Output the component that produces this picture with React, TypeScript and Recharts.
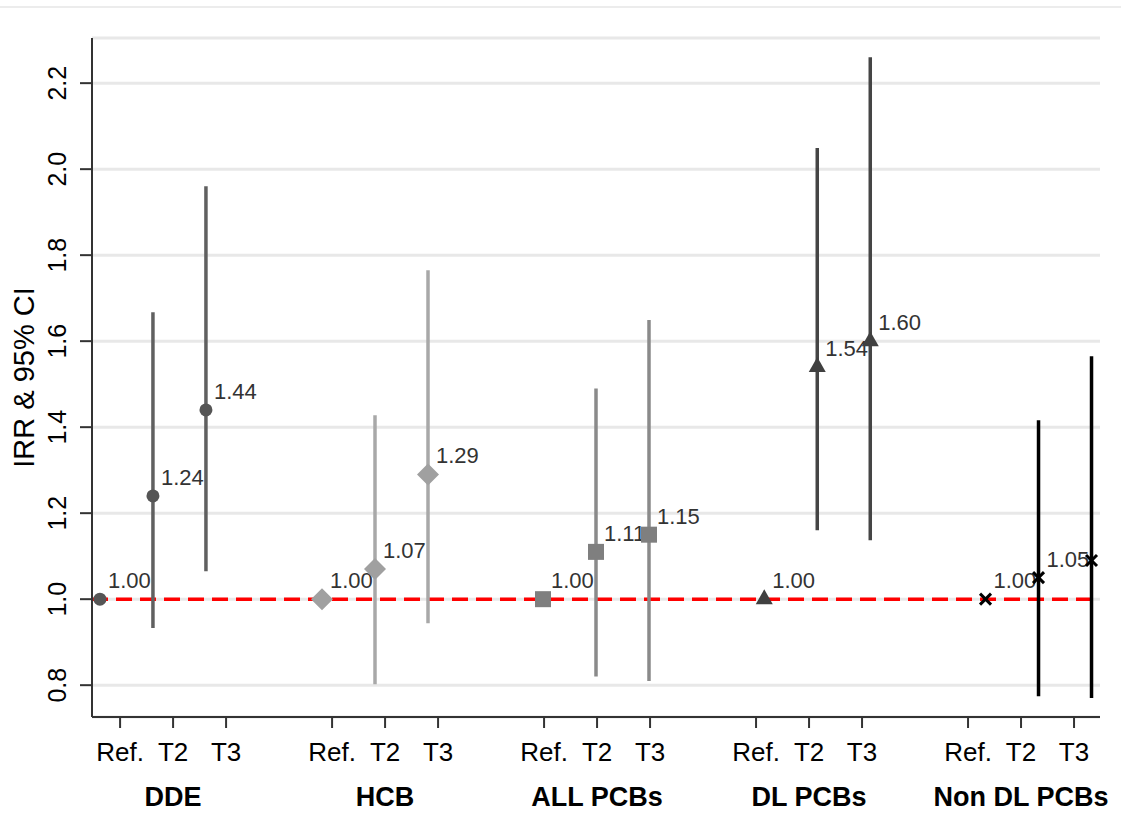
import React from 'react';
import { ComposedChart, Scatter, XAxis, YAxis, CartesianGrid, ReferenceLine, ErrorBar, Label } from 'recharts';

// ---- data ----
const groups = ['DDE', 'HCB', 'ALL PCBs', 'DL PCBs', 'Non DL PCBs'];
const levels = ['Ref.', 'T2', 'T3'];
const yTicks = [0.8, 1.0, 1.2, 1.4, 1.6, 1.8, 2.0, 2.2];

const ddeIRR = [1.0, 1.24, 1.44];
const ddeLow = [1.0, 0.933, 1.065];
const ddeHigh = [1.0, 1.667, 1.96];

const hcbIRR = [1.0, 1.07, 1.29];
const hcbLow = [1.0, 0.802, 0.944];
const hcbHigh = [1.0, 1.428, 1.765];

const allIRR = [1.0, 1.11, 1.15];
const allLow = [1.0, 0.82, 0.81];
const allHigh = [1.0, 1.49, 1.649];

const dlIRR = [1.0, 1.54, 1.6];
const dlLow = [1.0, 1.16, 1.137];
const dlHigh = [1.0, 2.049, 2.26];

const nondlIRR = [1.0, 1.05, 1.09];
const nondlLow = [1.0, 0.774, 0.77];
const nondlHigh = [1.0, 1.416, 1.565];

// ---- layout helpers ----
const groupOffsets = [-0.38, -0.19, -0.02, 0.155, 0.33];
const pos = (g: number, l: number) => 1 + g * 4 + l;

const levelTicks: number[] = [];
const levelTickLabel: Record<string, string> = {};
const groupTickLabel: Record<string, string> = {};
groups.forEach((name, g) => {
  levels.forEach((lv, l) => {
    levelTicks.push(pos(g, l));
    levelTickLabel[String(pos(g, l))] = lv;
  });
  groupTickLabel[String(pos(g, 1))] = name;
});

const build = (g: number, irr: number[], low: number[], high: number[]) =>
  irr.map((v, l) => ({
    x: pos(g, l) + groupOffsets[g],
    y: v,
    err: [v - low[l], high[l] - v],
  }));

const ddeData = build(0, ddeIRR, ddeLow, ddeHigh);
const hcbData = build(1, hcbIRR, hcbLow, hcbHigh);
const allData = build(2, allIRR, allLow, allHigh);
const dlData = build(3, dlIRR, dlLow, dlHigh);
const nondlData = build(4, nondlIRR, nondlLow, nondlHigh);

const FONT = '"Liberation Sans", Arial, sans-serif';

const valueLabel = (cx: number, cy: number, v: number) => (
  <text x={cx + 8} y={cy - 11} fontSize={22} fontFamily={FONT} fill="#333">
    {v.toFixed(2)}
  </text>
);

const CircleShape = (p: any) => (
  <g>
    <circle cx={p.cx} cy={p.cy} r={6.5} fill="#555555" />
    {valueLabel(p.cx, p.cy, p.payload.y)}
  </g>
);
const DiamondShape = (p: any) => {
  const { cx, cy } = p;
  return (
    <g>
      <polygon points={`${cx},${cy - 11} ${cx + 11},${cy} ${cx},${cy + 11} ${cx - 11},${cy}`} fill="#a0a0a0" />
      {valueLabel(cx, cy, p.payload.y)}
    </g>
  );
};
const SquareShape = (p: any) => {
  const { cx, cy } = p;
  return (
    <g>
      <rect x={cx - 8} y={cy - 8} width={16} height={16} fill="#7f7f7f" />
      {valueLabel(cx, cy, p.payload.y)}
    </g>
  );
};
const TriangleShape = (p: any) => {
  const { cx, cy } = p;
  return (
    <g>
      <polygon points={`${cx},${cy - 10} ${cx + 8.5},${cy + 5} ${cx - 8.5},${cy + 5}`} fill="#404040" />
      {valueLabel(cx, cy, p.payload.y)}
    </g>
  );
};
const CrossShape = (p: any) => {
  const { cx, cy } = p;
  const s = 5.5;
  return (
    <g>
      <line x1={cx - s} y1={cy - s} x2={cx + s} y2={cy + s} stroke="#000" strokeWidth={3} />
      <line x1={cx - s} y1={cy + s} x2={cx + s} y2={cy - s} stroke="#000" strokeWidth={3} />
      {valueLabel(cx, cy, p.payload.y)}
    </g>
  );
};

const XLevelTick = (p: any) => {
  const key = String(p.payload.value);
  const grp = groupTickLabel[key];
  return (
    <g>
      <text x={p.x} y={p.y + 33} textAnchor="middle" fontSize={26} fontFamily={FONT} fill="#000">
        {levelTickLabel[key]}
      </text>
      {grp ? (
        <text x={p.x} y={p.y + 78} textAnchor="middle" fontSize={27} fontWeight="bold" fontFamily={FONT} fill="#000">
          {grp}
        </text>
      ) : null}
    </g>
  );
};
const YTick = (p: any) => {
  const bx = p.x - 14;
  return (
    <text x={bx} y={p.y} transform={`rotate(-90, ${bx}, ${p.y})`} textAnchor="middle" fontSize={25} fontFamily={FONT} fill="#000">
      {p.payload.value.toFixed(1)}
    </text>
  );
};
const YTitle = (p: any) => {
  const vb = p.viewBox || { x: 0, y: 38, width: 92, height: 679 };
  const cy = vb.y + vb.height / 2;
  const bx = 34;
  return (
    <text x={bx} y={cy} transform={`rotate(-90, ${bx}, ${cy})`} textAnchor="middle" fontSize={29} fontFamily={FONT} fill="#000">
      IRR &amp; 95% CI
    </text>
  );
};

export default function App() {
  return (
    <div style={{ position: 'absolute', left: 0, top: 0, width: 1121, height: 837, background: '#fff', overflow: 'hidden' }}>
      <div style={{ position: 'absolute', left: 0, top: 6, width: 1121, height: 2, background: '#ececec' }} />
      <ComposedChart width={1121} height={837} margin={{ top: 38, right: 21, left: 0, bottom: 20 }}>
        <CartesianGrid horizontal vertical={false} stroke="#e8e8e8" strokeWidth={3} />
        <XAxis
          type="number"
          dataKey="x"
          domain={[0.47, 19.49]}
          allowDataOverflow
          ticks={levelTicks}
          interval={0}
          height={100}
          tickSize={11}
          tickMargin={0}
          tick={<XLevelTick />}
          axisLine={{ stroke: '#333', strokeWidth: 2 }}
          tickLine={{ stroke: '#333', strokeWidth: 2 }}
        />
        <YAxis
          type="number"
          domain={[0.726, 2.305]}
          allowDataOverflow
          ticks={yTicks}
          interval={0}
          width={92}
          tickSize={12}
          tickMargin={0}
          tick={<YTick />}
          axisLine={{ stroke: '#333', strokeWidth: 2 }}
          tickLine={{ stroke: '#333', strokeWidth: 2 }}
        >
          <Label content={<YTitle />} />
        </YAxis>
        <ReferenceLine y={1} stroke="#ff0000" strokeWidth={3.5} strokeDasharray="16 8" />
        <Scatter data={ddeData} dataKey="y" shape={<CircleShape />} isAnimationActive={false}>
          <ErrorBar dataKey="err" direction="y" width={0} stroke="#606060" strokeWidth={3.5} />
        </Scatter>
        <Scatter data={hcbData} dataKey="y" shape={<DiamondShape />} isAnimationActive={false}>
          <ErrorBar dataKey="err" direction="y" width={0} stroke="#a8a8a8" strokeWidth={3.5} />
        </Scatter>
        <Scatter data={allData} dataKey="y" shape={<SquareShape />} isAnimationActive={false}>
          <ErrorBar dataKey="err" direction="y" width={0} stroke="#8a8a8a" strokeWidth={3.5} />
        </Scatter>
        <Scatter data={dlData} dataKey="y" shape={<TriangleShape />} isAnimationActive={false}>
          <ErrorBar dataKey="err" direction="y" width={0} stroke="#454545" strokeWidth={3.5} />
        </Scatter>
        <Scatter data={nondlData} dataKey="y" shape={<CrossShape />} isAnimationActive={false}>
          <ErrorBar dataKey="err" direction="y" width={0} stroke="#000" strokeWidth={3.5} />
        </Scatter>
      </ComposedChart>
    </div>
  );
}
